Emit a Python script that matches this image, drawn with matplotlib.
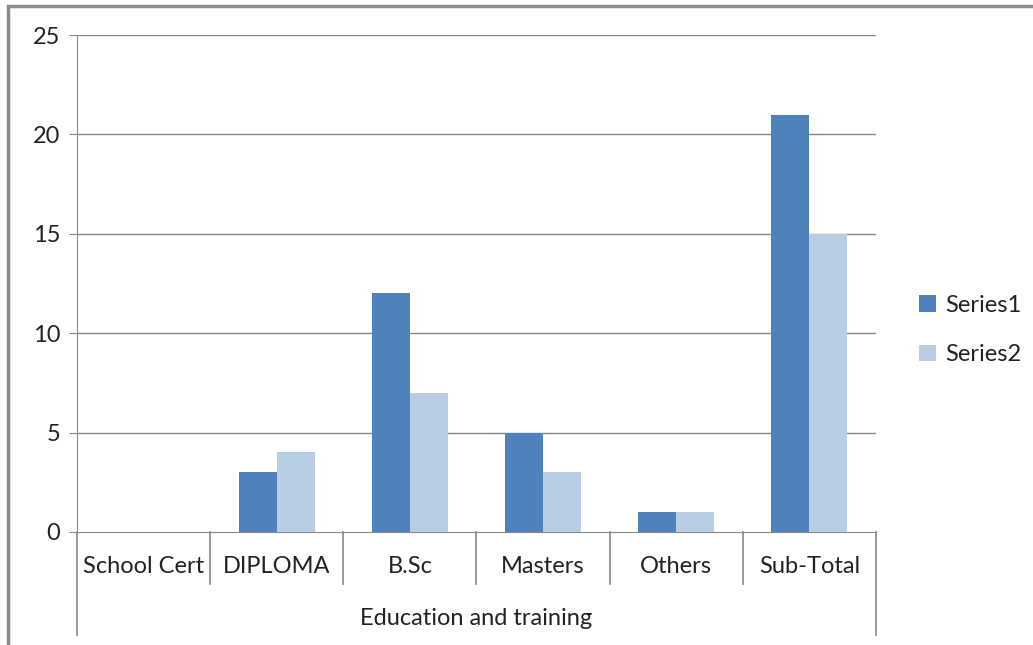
import matplotlib.pyplot as plt
from matplotlib.patches import Rectangle
import numpy as np

categories = ["School Cert", "DIPLOMA", "B.Sc", "Masters", "Others", "Sub-Total"]
series1 = [0, 3, 12, 5, 1, 21]
series2 = [0, 4, 7, 3, 1, 15]
group_label = "Education and training"
y_ticks = [0, 5, 10, 15, 20, 25]

plt.rcParams['font.family'] = ['Lato', 'DejaVu Sans']
text_col = "#222222"
line_col = "#888888"
fs = 17

fig = plt.figure(figsize=(10.33, 6.45), dpi=100)
ax = fig.add_axes([77 / 1033, 1 - 532 / 645, (876 - 77) / 1033, (532 - 35) / 645])

x = np.arange(len(categories))
w = 0.285
ax.bar(x - w / 2, series1, w, color="#4F81BD", label="Series1", zorder=3)
ax.bar(x + w / 2, series2, w, color="#B9CDE5", label="Series2", zorder=3)

ax.set_xlim(-0.5, len(categories) - 0.5)
ax.set_ylim(0, 25)
ax.set_yticks(y_ticks)
ax.tick_params(axis='y', length=6, color=line_col, labelsize=fs, labelcolor=text_col, pad=6)
ax.set_xticks([])
for y in y_ticks[1:]:
    ax.axhline(y, color=line_col, lw=1, zorder=1)
for s in ["top", "right"]:
    ax.spines[s].set_visible(False)
ax.spines["left"].set_color(line_col)
ax.spines["bottom"].set_color(line_col)

# category dividers and labels below the axis
trans = ax.get_xaxis_transform()
for i in range(len(categories) + 1):
    bottom = -0.208 if i in (0, len(categories)) else -0.104
    ax.plot([i - 0.5, i - 0.5], [0, bottom], transform=trans, color=line_col,
            lw=1.2, clip_on=False)
for i, c in enumerate(categories):
    ax.text(i, -0.07, c, transform=trans, ha="center", va="center",
            fontsize=fs, color=text_col)
ax.text((len(categories) - 1) / 2, -0.175, group_label, transform=trans,
        ha="center", va="center", fontsize=fs, color=text_col)

fig.legend(loc="center left", bbox_to_anchor=(898 / 1033, 1 - 330 / 645), frameon=False,
           fontsize=fs, handlelength=0.7, handleheight=0.7, handletextpad=0.4,
           labelspacing=1.2, labelcolor=text_col)

# outer chart border (left and top edges visible)
fig.patches.append(Rectangle((8 / 1033, -0.1), 1.2, 1 - 6 / 645 + 0.1, transform=fig.transFigure,
                             fill=False, edgecolor="#8a8a8a", lw=2.5))

fig.savefig("out.png", dpi=100)
